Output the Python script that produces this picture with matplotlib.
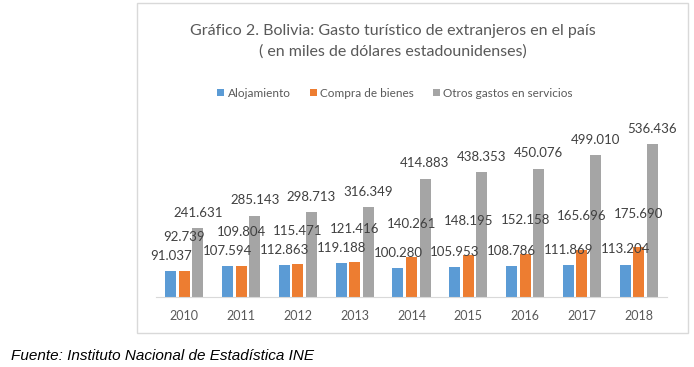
import numpy as np
import matplotlib.pyplot as plt
from matplotlib.patches import Rectangle

# Datos (miles de dólares estadounidenses)
anios = ['2010', '2011', '2012', '2013', '2014', '2015', '2016', '2017', '2018']
alojamiento = [91.037, 107.594, 112.863, 119.188, 100.280, 105.953, 108.786, 111.869, 113.204]
compra_bienes = [92.739, 109.804, 115.471, 121.416, 140.261, 148.195, 152.158, 165.696, 175.690]
otros_servicios = [241.631, 285.143, 298.713, 316.349, 414.883, 438.353, 450.076, 499.010, 536.436]

series = [
    ('Alojamiento', alojamiento, '#5B9BD5', 11),
    ('Compra de bienes', compra_bienes, '#ED7D31', 24),
    ('Otros gastos en servicios', otros_servicios, '#A5A5A5', 11),
]

W, H = 694, 367
fig = plt.figure(figsize=(W / 100, H / 100), dpi=100)
fuente = ['Lato', 'DejaVu Sans']

# marco del gráfico
fig.patches.append(Rectangle((137 / W, 1 - 333 / H), (688 - 137) / W, (333 - 3) / H,
                             transform=fig.transFigure, fill=False,
                             edgecolor='#D9D9D9', linewidth=1))

ax = fig.add_axes([156 / W, (H - 297) / H, 511 / W, (297 - 126) / H])

x = np.arange(len(anios))
paso = 0.238
ancho = 0.194
for i, (nombre, valores, color, desplaz) in enumerate(series):
    pos = x + (i - 1) * paso
    ax.bar(pos, valores, width=ancho, color=color, label=nombre)
    for px, v in zip(pos, valores):
        ax.annotate(f'{v:.3f}', (px, v), xytext=(0, desplaz), textcoords='offset points',
                    ha='center', va='center', fontsize=9.5, color='#404040', family=fuente)

ax.set_xlim(-0.5, len(anios) - 0.5)
ax.set_ylim(0, 600)
ax.set_xticks(x)
ax.set_xticklabels(anios, fontsize=9, color='#595959', family=fuente)
ax.tick_params(axis='x', length=0, pad=9)
ax.set_yticks([])
for lado in ['top', 'right', 'left']:
    ax.spines[lado].set_visible(False)
ax.spines['bottom'].set_color('#D9D9D9')

fig.text(393 / W, 1 - 41 / H,
         'Gráfico 2. Bolivia: Gasto turístico de extranjeros en el país\n( en miles de dólares estadounidenses)',
         ha='center', va='center', fontsize=11.5, color='#595959', family=fuente, linespacing=1.55)

fig.legend(loc='center', bbox_to_anchor=(395 / W, 1 - 93 / H), ncol=3, frameon=False,
           handlelength=0.6, handleheight=0.6, handletextpad=0.3, columnspacing=1.6,
           prop={'family': fuente, 'size': 8.5}, labelcolor='#595959')

fig.text(11 / W, 1 - 356 / H, 'Fuente: Instituto Nacional de Estadística INE',
         ha='left', va='center', fontsize=11, style='italic', family='Liberation Sans', color='#000000')

plt.savefig('out.png', dpi=100)
plt.close()
